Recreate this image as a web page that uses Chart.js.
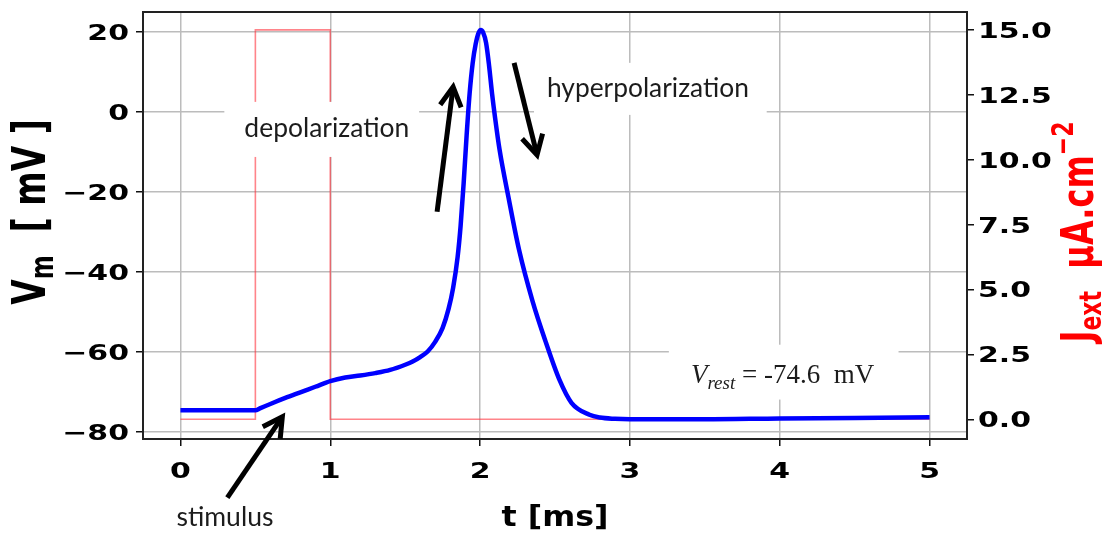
<!DOCTYPE html>
<html>
<head>
<meta charset="utf-8">
<script src="https://cdn.jsdelivr.net/npm/chart.js@4.4.1/dist/chart.umd.min.js"></script>
<style>
  html, body { margin: 0; padding: 0; background: #ffffff; }
  #wrap { width: 1104px; height: 534px; }
</style>
</head>
<body>
<div id="wrap"><canvas id="c" width="1104" height="534"></canvas></div>
<script>
// Membrane potential trace (ms, mV)
const timeMs = [0, 0.25, 0.5, 0.53, 0.6, 0.7, 0.8, 0.9, 1.0, 1.1, 1.2, 1.3, 1.4, 1.5, 1.55, 1.6, 1.65,
  1.7, 1.75, 1.79, 1.82, 1.85, 1.87, 1.89, 1.91, 1.93, 1.95, 1.97, 1.99, 2.005, 2.02, 2.04, 2.06,
  2.08, 2.1, 2.13, 2.19, 2.26, 2.35, 2.44, 2.53, 2.61, 2.73, 2.8, 2.9, 3.0, 3.5, 4.0, 4.5, 5.0];
const vmValues = [-74.6, -74.6, -74.6, -74.1, -73.0, -71.5, -70.1, -68.7, -67.3, -66.4, -65.9, -65.3, -64.5, -63.2, -62.4, -61.3, -59.9,
  -57.5, -54.0, -49.2, -44.0, -36.3, -28.5, -18.0, -6.0, 4.5, 12.0, 16.8, 19.7, 20.4, 19.8, 17.2, 11.5,
  4.5, -1.5, -9.5, -21.5, -34.5, -47.3, -57.7, -67.0, -72.7, -75.7, -76.4, -76.7, -76.8, -76.8, -76.6, -76.5, -76.3];

// External stimulus current (ms, µA.cm^-2)
const stimTime = [0, 0.5, 0.5, 1.0, 1.0, 5.0];
const stimValues = [0, 0, 15, 15, 0, 0];

// Tick values
const timeTicks = [0, 1, 2, 3, 4, 5];
const vmTicks = [-80, -60, -40, -20, 0, 20];
const stimTicks = [0, 2.5, 5, 7.5, 10, 12.5, 15];

const restPotential = -74.6;

const GRID = '#bcbcbc';
const TICK_FONT = 'bold 22px "DejaVu Sans"';
const STRETCH = 1.36;

function setTicks(values) {
  return function (scale) { scale.ticks = values.map(v => ({ value: v })); };
}

// Draws text with a horizontal stretch; segments carry their own font and baseline shift.
// If fitWidth is given, the stretch is chosen so the run spans that many pixels.
function drawRich(ctx, segs, x, y, align, sx, rotate, fitWidth) {
  ctx.save();
  ctx.textBaseline = 'alphabetic';
  ctx.textAlign = 'left';
  let total = 0;
  segs.forEach(s => { ctx.font = s.font; s.w = ctx.measureText(s.text).width; total += s.w; });
  if (fitWidth) sx = fitWidth / total;
  ctx.translate(x, y);
  ctx.scale(sx, 1);
  if (rotate) ctx.rotate(-Math.PI / 2);
  let cx = align === 'center' ? -total / 2 : (align === 'right' ? -total : 0);
  segs.forEach(s => {
    ctx.font = s.font;
    ctx.fillStyle = s.color || '#000';
    ctx.fillText(s.text, cx, s.dy || 0);
    cx += s.w;
  });
  ctx.restore();
}

function fitFont(ctx, text, family, weight, width) {
  ctx.font = weight + ' 100px ' + family;
  const w = ctx.measureText(text).width;
  return weight + ' ' + (100 * width / w).toFixed(2) + 'px ' + family;
}

// Annotation layout in data units (t in ms, V in mV)
const notes = [
  { text: 'depolarization', cx: 0.977, base: -6.3, width: 165, box: [0.293, 2.45, 1.593, -11.3] },
  { text: 'hyperpolarization', cx: 3.12, base: 3.7, width: 202, box: [2.36, 12.2, 3.913, -0.8] },
  { text: 'stimulus', cx: 0.297, base: -103.6, width: 97, box: null }
];
const arrows = [
  { from: [0.313, -96.4], to: [0.68, -76.2] },
  { from: [1.713, -25.0], to: [1.82, 6.2] },
  { from: [2.227, 12.2], to: [2.38, -10.8] }
];
const restBox = [3.26, -58.2, 4.793, -71.9];
const restAnchor = [3.407, -67.7];

const overlay = {
  id: 'overlay',
  beforeDraw(chart) {
    const ctx = chart.ctx;
    ctx.save();
    ctx.fillStyle = '#ffffff';
    ctx.fillRect(0, 0, chart.width, chart.height);
    ctx.restore();
  },
  afterDatasetsDraw(chart) {
    const ctx = chart.ctx;
    const xs = chart.scales.x, ys = chart.scales.y, ys1 = chart.scales.y1;
    const px = t => xs.getPixelForValue(t);
    const py = v => ys.getPixelForValue(v);
    const area = chart.chartArea;

    // white label boxes
    ctx.save();
    ctx.fillStyle = '#ffffff';
    notes.forEach(n => {
      if (!n.box) return;
      const [t0, v0, t1, v1] = n.box;
      ctx.fillRect(px(t0), py(v0), px(t1) - px(t0), py(v1) - py(v0));
    });
    ctx.fillRect(px(restBox[0]), py(restBox[1]), px(restBox[2]) - px(restBox[0]), py(restBox[3]) - py(restBox[1]));
    ctx.restore();

    // frame
    ctx.save();
    ctx.strokeStyle = '#222222';
    ctx.lineWidth = 2;
    ctx.strokeRect(area.left, area.top, area.right - area.left, area.bottom - area.top);
    ctx.restore();

    // tick labels
    vmTicks.forEach(v => {
      const label = (v < 0 ? '\u2212' : '') + Math.abs(v);
      drawRich(ctx, [{ text: label, font: TICK_FONT }], 129, ys.getPixelForValue(v) + 8, 'right', STRETCH, false);
    });
    stimTicks.forEach(v => {
      drawRich(ctx, [{ text: v.toFixed(1), font: TICK_FONT }], 978, ys1.getPixelForValue(v) + 8, 'left', STRETCH, false);
    });
    timeTicks.forEach(v => {
      drawRich(ctx, [{ text: String(v), font: TICK_FONT }], xs.getPixelForValue(v), 477.5, 'center', STRETCH, false);
    });

    // axis titles
    drawRich(ctx, [{ text: 't [ms]', font: 'bold 29px "DejaVu Sans"' }], 555, 526, 'center', 1, false, 107);
    drawRich(ctx, [
      { text: 'V', font: 'bold 33px "DejaVu Sans"' },
      { text: 'm', font: 'bold 23px "DejaVu Sans"', dy: 6 },
      { text: '  [ mV ]', font: 'bold 33px "DejaVu Sans"' }
    ], 45, 212, 'center', 1.4, true);
    drawRich(ctx, [
      { text: 'J', font: 'bold 32px "DejaVu Sans"', color: '#ff0000' },
      { text: 'ext', font: 'bold 22px "DejaVu Sans"', dy: 6, color: '#ff0000' },
      { text: '  \u00b5A.cm', font: 'bold 32px "DejaVu Sans"', color: '#ff0000' },
      { text: '\u22122', font: 'bold 22px "DejaVu Sans"', dy: -14, color: '#ff0000' }
    ], 1093, 232, 'center', 1.4, true);

    // annotation texts
    ctx.save();
    ctx.fillStyle = '#1c1c1c';
    ctx.textBaseline = 'alphabetic';
    ctx.textAlign = 'center';
    notes.forEach(n => {
      ctx.font = fitFont(ctx, n.text, 'Lato', 'normal', n.width);
      ctx.fillText(n.text, px(n.cx), py(n.base));
    });
    ctx.restore();

    // resting potential label
    drawRich(ctx, [
      { text: 'V', font: 'italic 27px "Liberation Serif"', color: '#1c1c1c' },
      { text: 'rest', font: 'italic 19px "Liberation Serif"', dy: 6, color: '#1c1c1c' },
      { text: ' = -' + Math.abs(restPotential).toFixed(1) + '  mV', font: '27px "Liberation Serif"', color: '#1c1c1c' }
    ], px(restAnchor[0]), py(restAnchor[1]), 'left', 1, false);

    // arrows
    ctx.save();
    ctx.strokeStyle = '#000';
    ctx.lineWidth = 5;
    ctx.lineJoin = 'miter';
    arrows.forEach(a => {
      const x0 = px(a.from[0]), y0 = py(a.from[1]);
      const x1 = px(a.to[0]), y1 = py(a.to[1]);
      const ang = Math.atan2(y1 - y0, x1 - x0);
      ctx.beginPath();
      ctx.moveTo(x0, y0);
      ctx.lineTo(x1 - 2 * Math.cos(ang), y1 - 2 * Math.sin(ang));
      ctx.stroke();
      const hl = 22, ha = 0.5;
      ctx.beginPath();
      ctx.moveTo(x1 - hl * Math.cos(ang - ha), y1 - hl * Math.sin(ang - ha));
      ctx.lineTo(x1, y1);
      ctx.lineTo(x1 - hl * Math.cos(ang + ha), y1 - hl * Math.sin(ang + ha));
      ctx.stroke();
    });
    ctx.restore();
  }
};

const gridCommon = { color: GRID, lineWidth: 1.5, tickLength: 7, tickColor: '#111', tickWidth: 1.5, drawTicks: true };

new Chart(document.getElementById('c'), {
  type: 'line',
  data: {
    datasets: [
      {
        label: 'Vm',
        data: timeMs.map((t, i) => ({ x: t, y: vmValues[i] })),
        yAxisID: 'y',
        borderColor: '#0000ff',
        borderWidth: 4.5,
        pointRadius: 0,
        cubicInterpolationMode: 'monotone',
        fill: false
      },
      {
        label: 'Jext',
        data: stimTime.map((t, i) => ({ x: t, y: stimValues[i] })),
        yAxisID: 'y1',
        borderColor: 'rgba(255, 50, 60, 0.6)',
        borderWidth: 1.6,
        pointRadius: 0,
        tension: 0,
        fill: false
      }
    ]
  },
  options: {
    responsive: false,
    devicePixelRatio: 1,
    animation: false,
    layout: { padding: { top: 12, left: 0, right: 0, bottom: 0 } },
    plugins: { legend: { display: false }, tooltip: { enabled: false }, title: { display: false } },
    scales: {
      x: {
        type: 'linear', min: -0.25, max: 5.25,
        afterBuildTicks: setTicks(timeTicks),
        afterFit: s => { s.height = 95; },
        grid: gridCommon,
        border: { display: false },
        ticks: { display: false }
      },
      y: {
        type: 'linear', position: 'left', min: -81.75, max: 24.9,
        afterBuildTicks: setTicks(vmTicks),
        afterFit: s => { s.width = 143; },
        grid: gridCommon,
        border: { display: false },
        ticks: { display: false }
      },
      y1: {
        type: 'linear', position: 'right', min: -0.76, max: 15.69,
        afterBuildTicks: setTicks(stimTicks),
        afterFit: s => { s.width = 137; },
        grid: Object.assign({}, gridCommon, { drawOnChartArea: false }),
        border: { display: false },
        ticks: { display: false }
      }
    }
  },
  plugins: [overlay]
});
</script>
</body>
</html>
